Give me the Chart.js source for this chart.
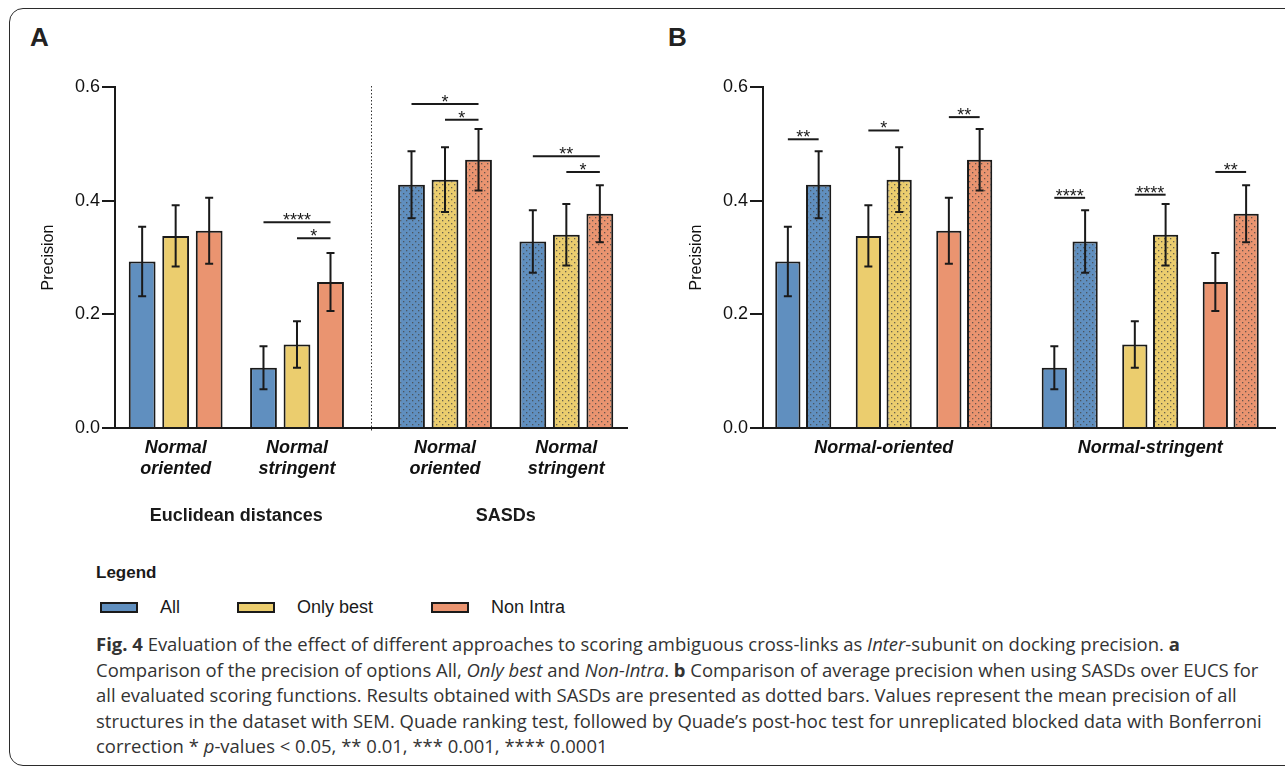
<!DOCTYPE html>
<html>
<head>
<meta charset="utf-8">
<script src="https://cdn.jsdelivr.net/npm/chart.js@4.4.0/dist/chart.umd.min.js"></script>
<style>
  html, body { margin: 0; padding: 0; background: #fff; width: 1285px; height: 769px; overflow: hidden; }
  body { position: relative; font-family: 'Liberation Sans', Arial, sans-serif; color: #1a1a1a; }
  .frame { position: absolute; left: 9px; top: 8px; width: 1330px; height: 758px; border: 1.5px solid #2b2b2b; border-radius: 14px; box-sizing: border-box; }
  .letter { position: absolute; top: 22px; font-weight: bold; font-size: 26px; line-height: 30px; color: #222; }
  canvas { position: absolute; top: 0; }
  #chartA { left: 0; }
  #chartB { left: 650px; }
  .legend-title { position: absolute; left: 96px; top: 562px; font-weight: bold; font-size: 17px; line-height: 22px; }
  .legend-item { position: absolute; top: 596px; font-size: 18px; line-height: 22px; display: flex; align-items: center; }
  .swatch { width: 38px; height: 11px; border: 2px solid #1a1a1a; box-sizing: border-box; margin-right: 22px; }
  .caption { position: absolute; left: 96px; top: 632px; font-family: 'Open Sans', sans-serif; font-size: 18px; line-height: 25.5px; color: #333; }
  .caption .line { white-space: nowrap; transform-origin: 0 0; width: max-content; }
</style>
</head>
<body>
<div class="frame"></div>
<div class="letter" style="left:30px">A</div>
<div class="letter" style="left:668px">B</div>
<canvas id="chartA" width="640" height="540"></canvas>
<canvas id="chartB" width="635" height="540"></canvas>

<div class="legend-title">Legend</div>
<div id="legend"></div>

<div class="caption">
  <div class="line"><b>Fig. 4</b> Evaluation of the effect of different approaches to scoring ambiguous cross-links as <i>Inter</i>-subunit on docking precision. <b>a</b></div>
  <div class="line">Comparison of the precision of options All, <i>Only best</i> and <i>Non-Intra</i>. <b>b</b> Comparison of average precision when using SASDs over EUCS for</div>
  <div class="line">all evaluated scoring functions. Results obtained with SASDs are presented as dotted bars. Values represent the mean precision of all</div>
  <div class="line">structures in the dataset with SEM. Quade ranking test, followed by Quade’s post-hoc test for unreplicated blocked data with Bonferroni</div>
  <div class="line">correction * <i>p</i>-values &lt; 0.05, ** 0.01, *** 0.001, **** 0.0001</div>
</div>

<script>
// ---- data ----
const methods = ['All', 'Only best', 'Non Intra'];
const scoringFns = ['Normal oriented', 'Normal stringent'];
const scoringFnsB = ['Normal-oriented', 'Normal-stringent'];
const distances = ['Euclidean distances', 'SASDs'];
const yTicks = [0, 0.2, 0.4, 0.6];

// mean precision, [Normal oriented, Normal stringent]
const allEUC = [0.293, 0.106];
const bestEUC = [0.338, 0.147];
const nonIntraEUC = [0.347, 0.257];
const allSASD = [0.428, 0.328];
const bestSASD = [0.437, 0.340];
const nonIntraSASD = [0.472, 0.377];

// SEM
const allEUCsem = [0.061, 0.038];
const bestEUCsem = [0.054, 0.041];
const nonIntraEUCsem = [0.058, 0.051];
const allSASDsem = [0.059, 0.055];
const bestSASDsem = [0.057, 0.054];
const nonIntraSASDsem = [0.054, 0.050];

// panel A significance: [method a, method b, distance, scoring fn, stars]
const sigA = [
  [0, 2, 0, 1, '****'],
  [1, 2, 0, 1, '*'],
  [0, 2, 1, 0, '*'],
  [1, 2, 1, 0, '*'],
  [0, 2, 1, 1, '**'],
  [1, 2, 1, 1, '*']
];
const sigAHeight = [0.362, 0.334, 0.570, 0.5425, 0.478, 0.4505];

// panel B significance (EUC vs SASD): [method, scoring fn, stars]
const sigB = [
  [0, 0, '**'],
  [1, 0, '*'],
  [2, 0, '**'],
  [0, 1, '****'],
  [1, 1, '****'],
  [2, 1, '**']
];
const sigBHeight = [0.508, 0.5235, 0.547, 0.405, 0.4105, 0.4505];

// ---- layout / style ----
const FONT = "'Liberation Sans', Arial, sans-serif";
const INK = '#1a1a1a';
const colors = ['#608fbf', '#ebcd6e', '#ea9470'];
const groupPosA = [0, 1, 2.22, 3.22];        // slots on panel A x axis
const pairPosB = [0, 1, 2, 3.31, 4.31, 5.31]; // slots on panel B x axis

const eucMeans = [allEUC, bestEUC, nonIntraEUC];
const sasdMeans = [allSASD, bestSASD, nonIntraSASD];
const eucSems = [allEUCsem, bestEUCsem, nonIntraEUCsem];
const sasdSems = [allSASDsem, bestSASDsem, nonIntraSASDsem];

function dotted(color) {
  const c = document.createElement('canvas');
  c.width = 6; c.height = 6;
  const g = c.getContext('2d');
  g.fillStyle = color;
  g.fillRect(0, 0, 6, 6);
  g.fillStyle = 'rgba(70,70,70,0.8)';
  g.fillRect(1, 1, 1.3, 1.3);
  g.fillRect(4, 4, 1.3, 1.3);
  return g.createPattern(c, 'repeat');
}
const patterns = colors.map(dotted);

// error bars drawn from dataset.sem through the y scale
const errorBars = {
  id: 'errorBars',
  afterDatasetsDraw(chart) {
    const { ctx, scales: { y } } = chart;
    ctx.save();
    ctx.strokeStyle = INK;
    ctx.lineWidth = 2;
    chart.data.datasets.forEach((ds, i) => {
      chart.getDatasetMeta(i).data.forEach((bar, j) => {
        const v = ds.data[j].y, e = ds.sem[j];
        const top = y.getPixelForValue(v + e), bot = y.getPixelForValue(v - e);
        ctx.beginPath();
        ctx.moveTo(bar.x, top); ctx.lineTo(bar.x, bot);
        ctx.moveTo(bar.x - 4, top); ctx.lineTo(bar.x + 4, top);
        ctx.moveTo(bar.x - 4, bot); ctx.lineTo(bar.x + 4, bot);
        ctx.stroke();
      });
    });
    ctx.restore();
  }
};

// significance lines: items = [[dsA, idxA, dsB, idxB, label, level], ...]
function sigPlugin(items) {
  return {
    id: 'sig',
    afterDatasetsDraw(chart) {
      const { ctx, scales: { y } } = chart;
      ctx.save();
      ctx.strokeStyle = INK;
      ctx.fillStyle = INK;
      ctx.lineWidth = 2;
      ctx.font = '18px ' + FONT;
      ctx.textAlign = 'center';
      ctx.textBaseline = 'alphabetic';
      items.forEach(([da, ia, db, ib, label, level]) => {
        const x1 = chart.getDatasetMeta(da).data[ia].x;
        const x2 = chart.getDatasetMeta(db).data[ib].x;
        const py = y.getPixelForValue(level);
        ctx.beginPath();
        ctx.moveTo(x1, py); ctx.lineTo(x2, py);
        ctx.stroke();
        ctx.fillText(label, (x1 + x2) / 2, py + 4);
      });
      ctx.restore();
    }
  };
}

// dotted divider and section titles for panel A
const sections = {
  id: 'sections',
  afterDraw(chart) {
    const { ctx, chartArea, scales: { x } } = chart;
    const xd = Math.round(x.getPixelForValue((groupPosA[1] + groupPosA[2]) / 2)) + 0.5;
    ctx.save();
    ctx.strokeStyle = '#333';
    ctx.lineWidth = 1;
    ctx.setLineDash([1.5, 2]);
    ctx.beginPath();
    ctx.moveTo(xd, chartArea.top - 1);
    ctx.lineTo(xd, chartArea.bottom + 3);
    ctx.stroke();
    ctx.setLineDash([]);
    ctx.font = 'bold 18px ' + FONT;
    ctx.fillStyle = INK;
    ctx.textAlign = 'center';
    ctx.textBaseline = 'middle';
    distances.forEach((d, i) => {
      const cx = (x.getPixelForValue(groupPosA[2 * i]) + x.getPixelForValue(groupPosA[2 * i + 1])) / 2;
      ctx.fillText(d, cx, chartArea.bottom + 88);
    });
    ctx.restore();
  }
};

function options(cfg) {
  return {
    responsive: false,
    animation: false,
    layout: { padding: { top: 87, right: cfg.padRight, bottom: 0, left: 0 } },
    plugins: { legend: { display: false }, tooltip: { enabled: false } },
    datasets: {
      bar: {
        categoryPercentage: cfg.catPct,
        barPercentage: cfg.barPct,
        borderColor: INK,
        borderWidth: 2,
        borderSkipped: 'start'
      }
    },
    scales: {
      x: {
        type: 'linear',
        min: cfg.xMin,
        max: cfg.xMax,
        offset: false,
        grid: { display: false, drawTicks: false },
        border: { display: true, color: INK, width: 2 },
        afterBuildTicks: ax => { ax.ticks = cfg.tickPos.map(v => ({ value: v })); },
        afterFit: ax => { ax.height = 112; },
        ticks: {
          autoSkip: false,
          maxRotation: 0,
          padding: 9,
          color: '#111',
          font: { family: FONT, size: 18, style: 'italic', weight: 'bold', lineHeight: 1.2 },
          callback: (v, i) => cfg.tickLabels[i]
        }
      },
      y: {
        min: 0,
        max: 0.6,
        afterBuildTicks: ax => { ax.ticks = yTicks.map(v => ({ value: v })); },
        afterFit: ax => { ax.width = cfg.yWidth; },
        grid: { display: true, drawOnChartArea: false, drawTicks: true, tickLength: 13, color: INK, lineWidth: 2 },
        border: { display: true, color: INK, width: 2 },
        ticks: { padding: 2, color: '#111', font: { family: FONT, size: 18 }, callback: v => v.toFixed(1) },
        title: { display: true, text: 'Precision', color: '#111', font: { family: FONT, size: 16 }, padding: { top: cfg.titlePad, bottom: 0 } }
      }
    }
  };
}

// ---- panel A: one dataset per method, EUC groups then SASD groups ----
const datasetsA = methods.map((m, k) => ({
  label: m,
  data: [
    { x: groupPosA[0], y: eucMeans[k][0] },
    { x: groupPosA[1], y: eucMeans[k][1] },
    { x: groupPosA[2], y: sasdMeans[k][0] },
    { x: groupPosA[3], y: sasdMeans[k][1] }
  ],
  sem: [eucSems[k][0], eucSems[k][1], sasdSems[k][0], sasdSems[k][1]],
  backgroundColor: [colors[k], colors[k], patterns[k], patterns[k]]
}));

new Chart(document.getElementById('chartA'), {
  type: 'bar',
  data: { datasets: datasetsA },
  options: options({
    padRight: 13, yWidth: 115, titlePad: 39,
    xMin: -0.5, xMax: 3.72, catPct: 0.8285, barPct: 0.8,
    tickPos: groupPosA,
    tickLabels: [...scoringFns, ...scoringFns].map(s => s.split(' '))
  }),
  plugins: [errorBars, sections,
    sigPlugin(sigA.map(([a, b, d, s, lab], i) => [a, d * 2 + s, b, d * 2 + s, lab, sigAHeight[i]]))]
});

// ---- panel B: EUC vs SASD pairs for each method ----
const orderB = [];
scoringFns.forEach((s, si) => methods.forEach((m, mi) => orderB.push([mi, si])));

const datasetsB = [
  {
    label: 'EUC',
    data: orderB.map(([mi, si], i) => ({ x: pairPosB[i], y: eucMeans[mi][si] })),
    sem: orderB.map(([mi, si]) => eucSems[mi][si]),
    backgroundColor: orderB.map(([mi]) => colors[mi])
  },
  {
    label: 'SASD',
    data: orderB.map(([mi, si], i) => ({ x: pairPosB[i], y: sasdMeans[mi][si] })),
    sem: orderB.map(([mi, si]) => sasdSems[mi][si]),
    backgroundColor: orderB.map(([mi]) => patterns[mi])
  }
];

new Chart(document.getElementById('chartB'), {
  type: 'bar',
  data: { datasets: datasetsB },
  options: options({
    padRight: 10, yWidth: 113, titlePad: 37,
    xMin: -0.5, xMax: 5.86, catPct: 0.765, barPct: 0.82,
    tickPos: [(pairPosB[0] + pairPosB[2]) / 2, (pairPosB[3] + pairPosB[5]) / 2],
    tickLabels: scoringFnsB
  }),
  plugins: [errorBars,
    sigPlugin(sigB.map(([m, s, lab], i) => [0, s * 3 + m, 1, s * 3 + m, lab, sigBHeight[i]]))]
});

// ---- legend ----
const legendLeft = [100, 237, 431];
const legend = document.getElementById('legend');
methods.forEach((m, k) => {
  const item = document.createElement('div');
  item.className = 'legend-item';
  item.style.left = legendLeft[k] + 'px';
  const sw = document.createElement('div');
  sw.className = 'swatch';
  sw.style.background = colors[k];
  const txt = document.createElement('span');
  txt.textContent = m;
  item.appendChild(sw);
  item.appendChild(txt);
  legend.appendChild(item);
});

// ---- one common horizontal scale for the caption, fitted to the long lines ----
const captionRight = [1177, 1272, 1229, 1259];
const lines = document.querySelectorAll('.caption .line');
let ratio = 0;
captionRight.forEach((r, i) => { ratio += (r - 96) / lines[i].getBoundingClientRect().width; });
ratio /= captionRight.length;
lines.forEach(el => { el.style.transform = 'scaleX(' + ratio + ')'; });
</script>
</body>
</html>
